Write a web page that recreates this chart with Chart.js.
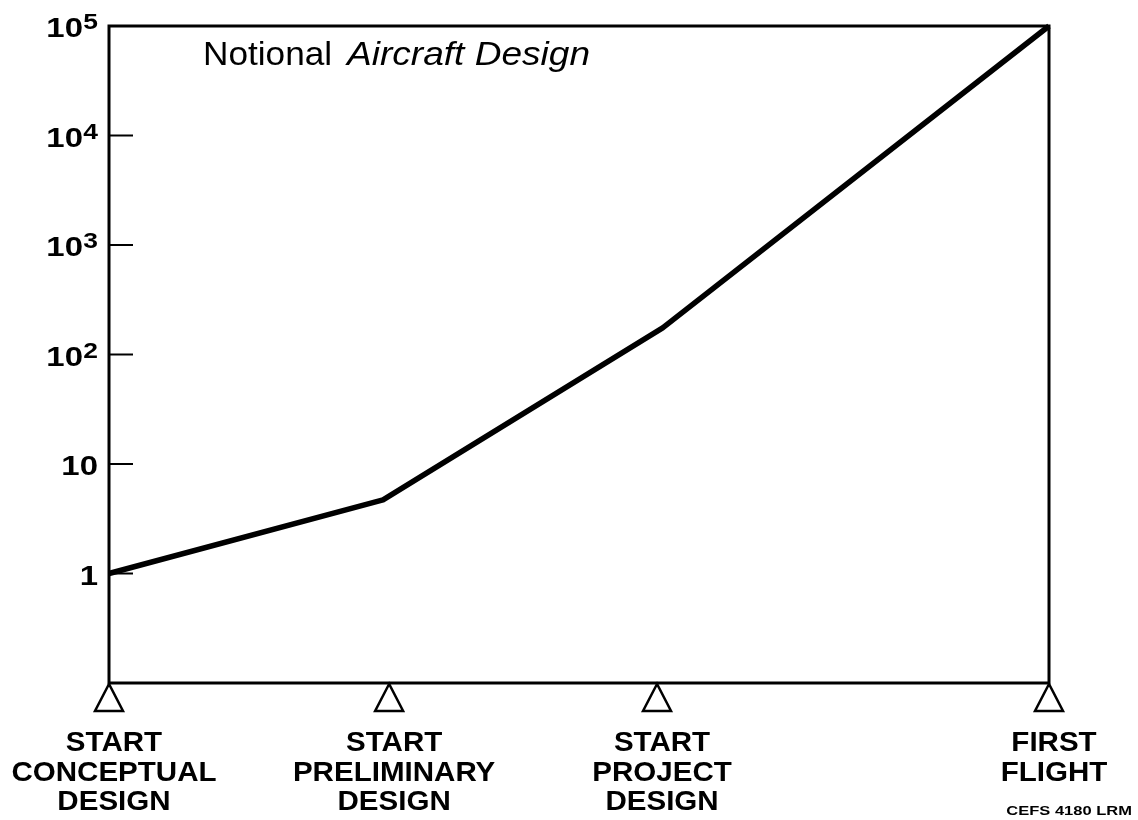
<!DOCTYPE html>
<html><head><meta charset="utf-8">
<script src="https://cdn.jsdelivr.net/npm/chart.js@4/dist/chart.umd.min.js"></script>
<style>html,body{margin:0;padding:0;background:#fff;} #wrap{width:1138px;height:820px;position:relative;}</style>
</head><body><div id="wrap"><canvas id="c" width="1138" height="820"></canvas></div>
<script>
// ---- data ----
const curveX = [0, 0.2915, 0.589, 1];
const curveY = [1, 4.7, 175, 100000];
const milestoneX = [0, 0.298, 0.583, 1];
const milestoneLabels = [
  ["START", "CONCEPTUAL", "DESIGN"],
  ["START", "PRELIMINARY", "DESIGN"],
  ["START", "PROJECT", "DESIGN"],
  ["FIRST", "FLIGHT"]
];
const yTickValues = [1, 10, 100, 1000, 10000, 100000];
const yTickBase = ["1", "10", "10", "10", "10", "10"];
const yTickExp = ["", "", "2", "3", "4", "5"];
const titlePlain = "Notional";
const titleItalic = "Aircraft Design";
const footnote = "CEFS 4180 LRM";

const FONT = "'Liberation Sans', Arial, Helvetica, sans-serif";

function stretchText(ctx, t, x, y, font, align, sx) {
  ctx.save();
  ctx.font = font;
  ctx.textAlign = align;
  ctx.textBaseline = 'alphabetic';
  ctx.fillStyle = '#000';
  ctx.translate(x, y);
  ctx.scale(sx, 1);
  ctx.fillText(t, 0, 0);
  ctx.restore();
}

const decor = {
  id: 'decor',
  afterDraw(chart) {
    const ctx = chart.ctx, a = chart.chartArea;
    const xs = chart.scales.x, ys = chart.scales.y;
    ctx.save();
    ctx.strokeStyle = '#000';
    // frame
    ctx.lineWidth = 3;
    ctx.strokeRect(a.left, a.top, a.right - a.left, a.bottom - a.top);
    // inner tick marks
    ctx.lineWidth = 2;
    yTickValues.forEach(v => {
      const y = ys.getPixelForValue(v);
      ctx.beginPath(); ctx.moveTo(a.left, y); ctx.lineTo(a.left + 24, y); ctx.stroke();
    });
    // tick labels
    const rEdge = a.left - 11;
    yTickValues.forEach((v, i) => {
      const y = ys.getPixelForValue(v);
      if (yTickExp[i]) {
        stretchText(ctx, yTickExp[i], rEdge, y + 3, "bold 22px " + FONT, 'right', 1.2);
        stretchText(ctx, yTickBase[i], rEdge - 15, y + 11, "bold 27px " + FONT, 'right', 1.22);
      } else {
        stretchText(ctx, yTickBase[i], rEdge, y + 11, "bold 27px " + FONT, 'right', 1.22);
      }
    });
    // milestone triangles + labels
    ctx.lineWidth = 2.5;
    ctx.lineJoin = 'miter';
    milestoneX.forEach((m, i) => {
      const px = xs.getPixelForValue(m);
      ctx.beginPath();
      ctx.moveTo(px, a.bottom + 1);
      ctx.lineTo(px - 14, a.bottom + 28);
      ctx.lineTo(px + 14, a.bottom + 28);
      ctx.closePath();
      ctx.stroke();
      milestoneLabels[i].forEach((line, j) => {
        stretchText(ctx, line, px + 5, a.bottom + 68 + j * 29.5, "bold 28px " + FONT, 'center', 1.055);
      });
    });
    // title
    stretchText(ctx, titlePlain, 203, 65, "34px " + FONT, 'left', 1.035);
    stretchText(ctx, titleItalic, 347, 65, "italic 34px " + FONT, 'left', 1.09);
    // footnote
    stretchText(ctx, footnote, 1132, 815, "bold 13px " + FONT, 'right', 1.27);
    ctx.restore();
  }
};

new Chart(document.getElementById('c'), {
  type: 'line',
  data: {
    datasets: [{
      data: curveX.map((x, i) => ({ x: x, y: curveY[i] })),
      borderColor: '#000',
      borderWidth: 5.5,
      pointRadius: 0,
      tension: 0,
      clip: false,
      borderJoinStyle: 'round',
      borderCapStyle: 'butt',
      fill: false
    }]
  },
  options: {
    responsive: false,
    animation: false,
    devicePixelRatio: 1,
    layout: { padding: { left: 109, right: 89, top: 26, bottom: 137 } },
    scales: {
      x: { type: 'linear', min: 0, max: 1, display: false },
      y: { type: 'logarithmic', min: 0.1, max: 100000, display: false }
    },
    plugins: { legend: { display: false }, tooltip: { enabled: false } }
  },
  plugins: [decor]
});
</script>
</body></html>
